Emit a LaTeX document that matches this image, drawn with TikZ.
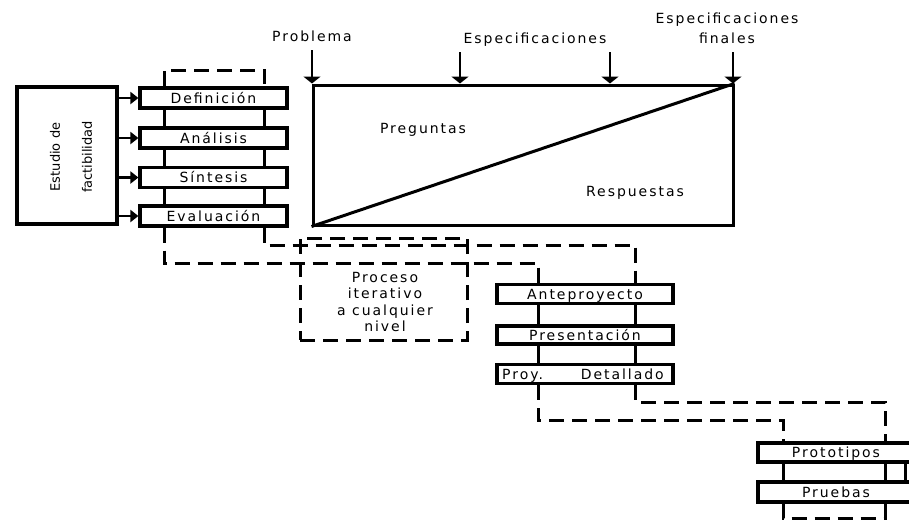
\documentclass[tikz,border=0pt]{standalone}
\usepackage{fontspec}
\setmainfont{DejaVu Sans}[LetterSpace=14]
\newfontfamily\plainsans{DejaVu Sans}
\usetikzlibrary{arrows.meta}
\begin{document}
\begin{tikzpicture}[x=1pt,y=-1pt,
  lbl/.style={font=\fontsize{14}{16.5}\selectfont, inner sep=0pt},
  stage/.style={draw, line width=3.2pt, fill=white, inner sep=0pt, minimum height=20pt, text height=11pt, text depth=1pt, font=\fontsize{14}{14}\selectfont},
  conn/.style={line width=3pt},
  dsh/.style={line width=3pt, dash pattern=on 15pt off 8pt},
  inarr/.style={line width=2.4pt, -{Triangle[width=12pt,length=8pt]}},
  toparr/.style={line width=1.8pt, -{Triangle[width=17pt,length=7pt]}}
]
\useasboundingbox (0,0) rectangle (909,520);
\clip (0,0) rectangle (909,520);

% helper x-coordinates for the vertical connector lines
\coordinate (lx) at (164,0);
\coordinate (rx) at (264,0);
\coordinate (alx) at (538,0);
\coordinate (arx) at (635,0);
\coordinate (plx) at (783,0);
\coordinate (prx) at (885,0);
\coordinate (pex) at (905,0);

% Estudio de factibilidad
\node[draw, line width=3.2pt, minimum width=100pt, minimum height=137pt, inner sep=0pt] (est) at (67,155.5) {};
\node[rotate=90, align=center, font={\plainsans\fontsize{13}{32}\selectfont}, inner sep=0pt] (esttxt) at (71,157) {Estudio de\\factibilidad};

% first group
\node[stage, minimum width=147pt] (def) at (213.5,98) {Definición};
\node[stage, minimum width=147pt] (ana) at (213.5,138) {Análisis};
\node[stage, minimum width=147pt] (sin) at (213.5,177.5) {Síntesis};
\node[stage, minimum width=147pt] (eva) at (213.5,216) {Evaluación};

\draw[inarr] (est.east |- def) -- (def.west);
\draw[inarr] (est.east |- ana) -- (ana.west);
\draw[inarr] (est.east |- sin) -- (sin.west);
\draw[inarr] (est.east |- eva) -- (eva.west);

\draw[dsh] (def.north -| lx) -- ++(0,-16) -| (def.north -| rx);
\draw[conn] (def.south -| lx) -- (ana.north -| lx);
\draw[conn] (def.south -| rx) -- (ana.north -| rx);
\draw[conn] (ana.south -| lx) -- (sin.north -| lx);
\draw[conn] (ana.south -| rx) -- (sin.north -| rx);
\draw[conn] (sin.south -| lx) -- (eva.north -| lx);
\draw[conn] (sin.south -| rx) -- (eva.north -| rx);

% big rectangle
\node[draw, line width=3pt, minimum width=420pt, minimum height=140pt, inner sep=0pt] (big) at (523,155) {};
\draw[line width=3pt] (big.south west) -- (big.north east);
\node[lbl] (preg) at (423,130) {Preguntas};
\node[lbl] (resp) at (635,193) {Respuestas};

% top labels and arrows
\node[lbl] (prob) at (312,36) {Problema};
\node[lbl] (espec) at (535,40) {Especificaciones};
\node[lbl, align=center, font=\fontsize{14}{20}\selectfont] (fin) at (727,28) {Especificaciones\\finales};
\coordinate (a1) at (312,50);
\coordinate (a2) at (460,52);
\coordinate (a3) at (610,52);
\coordinate (a4) at (733,52);
\draw[toparr] (a1) -- (a1 |- big.north);
\draw[toparr] (a2) -- (a2 |- big.north);
\draw[toparr] (a3) -- (a3 |- big.north);
\draw[toparr] (a4) -- (a4 |- big.north);

% iterative box
\node[draw, dsh, minimum width=167pt, minimum height=102pt, inner sep=0pt] (iter) at (383.5,289) {};
\node[lbl, align=center] (itertxt) at (385,302) {Proceso\\iterativo\\a cualquier\\nivel};

% second group
\node[stage, minimum width=176pt, minimum height=19pt] (ante) at (585,294) {Anteproyecto};
\node[stage, minimum width=176pt, minimum height=18pt] (pres) at (585,335) {Presentación};
\node[stage, minimum width=176pt, minimum height=19pt] (proy) at (585,374) {};
\node[lbl, anchor=base west] (proyl) at (502,379.5) {Proy.};
\node[lbl, anchor=base east] (proyr) at (664,379.5) {Detallado};

\draw[dsh] (eva.south -| lx) |- (538,263) -- (ante.north -| alx);
\draw[dsh] (eva.south -| rx) |- (635,245) -- (ante.north -| arx);
\draw[conn] (ante.south -| alx) -- (pres.north -| alx);
\draw[conn] (ante.south -| arx) -- (pres.north -| arx);
\draw[conn] (pres.south -| alx) -- (proy.north -| alx);
\draw[conn] (pres.south -| arx) -- (proy.north -| arx);

% third group
\node[stage, minimum width=156pt, minimum height=19pt] (proto) at (836,452.5) {Prototipos};
\node[stage, minimum width=156pt, minimum height=20pt] (prue) at (836,492) {Pruebas};

\draw[dsh] (proy.south -| alx) |- (783,420) -- (proto.north -| plx);
\draw[dsh] (proy.south -| arx) |- (885,402) -- (proto.north -| prx);
\draw[conn] (proto.south -| plx) -- (prue.north -| plx);
\draw[conn] (proto.south -| prx) -- (prue.north -| prx);
\draw[conn] (proto.south -| pex) -- (prue.north -| pex);
\draw[dsh] (prue.south -| plx) |- (885,518) -- (prue.south -| prx);
\end{tikzpicture}
\end{document}
